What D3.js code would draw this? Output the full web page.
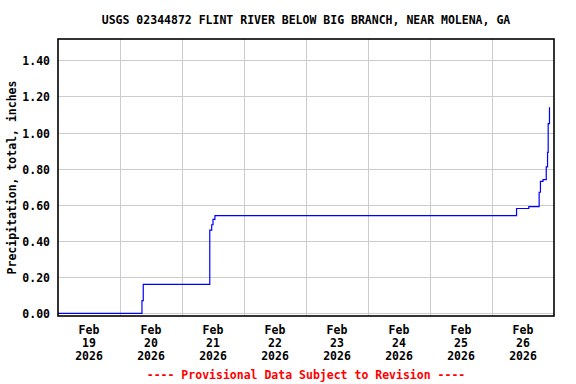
<!DOCTYPE html>
<html>
<head>
<meta charset="utf-8">
<script src="https://cdn.jsdelivr.net/npm/d3@7"></script>
<style>
  body { margin: 0; background: #fff; }
  text { font-family: "DejaVu Sans Mono", "Liberation Mono", monospace; font-weight: bold; }
</style>
</head>
<body>
<svg id="chart" width="576" height="384"></svg>
<script>
// cumulative precipitation (step changes)
var times = ["2026-02-19T00:00", "2026-02-20T08:30", "2026-02-20T09:00", "2026-02-21T10:45",
             "2026-02-21T11:30", "2026-02-21T12:00", "2026-02-21T12:45", "2026-02-26T09:30",
             "2026-02-26T14:15", "2026-02-26T18:15", "2026-02-26T18:45", "2026-02-26T19:45",
             "2026-02-26T21:00", "2026-02-26T21:30", "2026-02-26T21:45", "2026-02-26T22:15"];
var precip = [0.00, 0.07, 0.16, 0.46, 0.49, 0.52, 0.54, 0.58,
              0.59, 0.67, 0.73, 0.74, 0.81, 0.89, 1.05, 1.14];
var yTicks = [0.0, 0.2, 0.4, 0.6, 0.8, 1.0, 1.2, 1.4];
var dayLabels = ["19", "20", "21", "22", "23", "24", "25", "26"];
var title = "USGS 02344872 FLINT RIVER BELOW BIG BRANCH, NEAR MOLENA, GA";

var parse = d3.timeParse("%Y-%m-%dT%H:%M");
var data = times.map(function(t, i){ return {t: parse(t), v: precip[i]}; });

var svg = d3.select("#chart");
var pLeft = 58, pRight = 554, pTop = 39, pBottom = 316;

var x = d3.scaleTime()
  .domain([parse("2026-02-19T00:00"), parse("2026-02-27T00:00")])
  .range([pLeft, pRight]);
var y = d3.scaleLinear().domain([-0.015, 1.518]).range([pBottom, pTop]);

// grid
var days = dayLabels.map(function(d){ return parse("2026-02-" + d + "T00:00"); });
svg.append("g").selectAll("line").data(days.slice(1)).enter().append("line")
  .attr("x1", function(d){ return Math.round(x(d)) + 0.5; })
  .attr("x2", function(d){ return Math.round(x(d)) + 0.5; })
  .attr("y1", pTop).attr("y2", pBottom)
  .attr("stroke", "#cccccc").attr("stroke-width", 1);
svg.append("g").selectAll("line").data(yTicks).enter().append("line")
  .attr("x1", pLeft).attr("x2", pRight)
  .attr("y1", function(d){ return Math.round(y(d)) + 0.5; })
  .attr("y2", function(d){ return Math.round(y(d)) + 0.5; })
  .attr("stroke", "#cccccc").attr("stroke-width", 1);

// data line
var line = d3.line()
  .x(function(d){ return x(d.t); })
  .y(function(d){ return y(d.v); })
  .curve(d3.curveStepAfter);
svg.append("path").datum(data)
  .attr("d", line)
  .attr("fill", "none")
  .attr("stroke", "#0000ff")
  .attr("stroke-width", 1.2);

// frame
svg.append("rect")
  .attr("x", pLeft).attr("y", pTop)
  .attr("width", pRight - pLeft).attr("height", pBottom - pTop)
  .attr("fill", "none").attr("stroke", "#000").attr("stroke-width", 1.6);

// y tick labels
svg.append("g").selectAll("text").data(yTicks).enter().append("text")
  .attr("x", 50).attr("y", function(d){ return y(d) + 5; })
  .attr("text-anchor", "end")
  .attr("font-size", "11.5px")
  .text(function(d){ return d.toFixed(2); });

// x tick labels (centered at noon)
function noon(d){ return x(parse("2026-02-" + d + "T12:00")); }
var xl = svg.append("g").selectAll("text").data(dayLabels).enter().append("text")
  .attr("text-anchor", "middle")
  .attr("font-size", "11.5px")
  .attr("x", noon)
  .attr("y", 334);
xl.append("tspan").text("Feb");
xl.append("tspan").attr("x", noon).attr("dy", 13).text(function(d){ return d; });
xl.append("tspan").attr("x", noon).attr("dy", 13).text("2026");

// title
svg.append("text").attr("x", (pLeft + pRight) / 2).attr("y", 24)
  .attr("text-anchor", "middle").attr("font-size", "11.5px").text(title);

// y axis label
svg.append("text")
  .attr("transform", "translate(16," + (pTop + pBottom) / 2 + ") rotate(-90)")
  .attr("text-anchor", "middle").attr("font-size", "11.5px")
  .text("Precipitation, total, inches");

// footer
svg.append("text").attr("x", (pLeft + pRight) / 2).attr("y", 379)
  .attr("text-anchor", "middle").attr("font-size", "11.5px").attr("fill", "#ff0000")
  .text("---- Provisional Data Subject to Revision ----");
</script>
</body>
</html>
